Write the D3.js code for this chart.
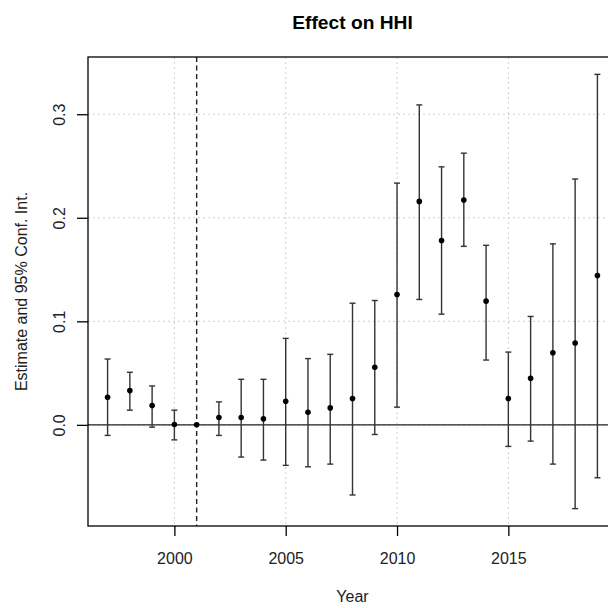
<!DOCTYPE html>
<html>
<head>
<meta charset="utf-8">
<script src="https://cdn.jsdelivr.net/npm/d3@7"></script>
<style>
  html, body { margin: 0; padding: 0; background: #fff; }
  svg { display: block; font-family: "Liberation Sans", Arial, Helvetica, sans-serif; }
</style>
</head>
<body>
<svg id="chart" width="608" height="608"></svg>
<script>
// Event-study coefficients on HHI, by year (2001 is the reference year)
const years = [1997, 1998, 1999, 2000, 2001, 2002, 2003, 2004, 2005, 2006, 2007, 2008,
               2009, 2010, 2011, 2012, 2013, 2014, 2015, 2016, 2017, 2018, 2019];
const estimate = [0.0267, 0.0331, 0.0187, 0.0004, 0.0, 0.0071, 0.0071, 0.0058, 0.0228, 0.0122,
                  0.0164, 0.0254, 0.0556, 0.1259, 0.2158, 0.1780, 0.2171, 0.1195, 0.0254,
                  0.0450, 0.0697, 0.0790, 0.1442];
const lower = [-0.0102, 0.0142, -0.0022, -0.0145, 0.0, -0.0102, -0.0311, -0.0340, -0.0391, -0.0405,
               -0.0379, -0.0677, -0.0093, 0.0171, 0.1211, 0.1069, 0.1724, 0.0626, -0.0208,
               -0.0157, -0.0379, -0.0809, -0.0511];
const upper = [0.0636, 0.0508, 0.0376, 0.0142, 0.0, 0.0222, 0.0440, 0.0440, 0.0835, 0.0640,
               0.0681, 0.1175, 0.1201, 0.2335, 0.3090, 0.2492, 0.2624, 0.1734, 0.0703,
               0.1047, 0.1748, 0.2374, 0.3385];
const xTicks = [2000, 2005, 2010, 2015];
const yTicks = [0.0, 0.1, 0.2, 0.3];
const treatYear = 2001;

const svg = d3.select("#chart");
const plot = { left: 88, top: 57, right: 617, bottom: 526 };

// Axis ranges padded by 4% on each side, like R's default "r" style
const pad = (lo, hi) => { const d = (hi - lo) * 0.04; return [lo - d, hi + d]; };
const x = d3.scaleLinear()
  .domain(pad(d3.min(years), d3.max(years)))
  .range([plot.left, plot.right]);
const y = d3.scaleLinear()
  .domain(pad(d3.min(lower), d3.max(upper)))
  .range([plot.bottom, plot.top]);

// Dotted grid
const grid = svg.append("g")
  .attr("stroke", "#cfcfcf").attr("stroke-width", 1).attr("stroke-dasharray", "2,3");
grid.selectAll("line.v").data(xTicks).join("line")
  .attr("x1", d => x(d)).attr("x2", d => x(d))
  .attr("y1", plot.top).attr("y2", plot.bottom);
grid.selectAll("line.h").data(yTicks).join("line")
  .attr("x1", plot.left).attr("x2", plot.right)
  .attr("y1", d => y(d)).attr("y2", d => y(d));

// Zero line and treatment-year marker
svg.append("line")
  .attr("x1", plot.left).attr("x2", plot.right)
  .attr("y1", y(0)).attr("y2", y(0))
  .attr("stroke", "#222").attr("stroke-width", 1.3);
svg.append("line")
  .attr("x1", x(treatYear)).attr("x2", x(treatYear))
  .attr("y1", plot.top).attr("y2", plot.bottom)
  .attr("stroke", "#222").attr("stroke-width", 1.4).attr("stroke-dasharray", "5,3.5");

// Confidence intervals
const rows = years.map((yr, i) => ({ yr, est: estimate[i], lo: lower[i], hi: upper[i] }));
const bars = svg.append("g").attr("stroke", "#333").attr("stroke-width", 1.4);
const withCI = rows.filter(d => d.hi !== d.lo);
bars.selectAll("line.ci").data(withCI).join("line")
  .attr("x1", d => x(d.yr)).attr("x2", d => x(d.yr))
  .attr("y1", d => y(d.lo)).attr("y2", d => y(d.hi));
bars.selectAll("line.capHi").data(withCI).join("line")
  .attr("x1", d => x(d.yr) - 3).attr("x2", d => x(d.yr) + 3)
  .attr("y1", d => y(d.hi)).attr("y2", d => y(d.hi));
bars.selectAll("line.capLo").data(withCI).join("line")
  .attr("x1", d => x(d.yr) - 3).attr("x2", d => x(d.yr) + 3)
  .attr("y1", d => y(d.lo)).attr("y2", d => y(d.lo));

// Point estimates
svg.append("g").selectAll("circle").data(rows).join("circle")
  .attr("cx", d => x(d.yr)).attr("cy", d => y(d.est)).attr("r", 2.8)
  .attr("fill", "#000");

// Plot frame
svg.append("rect")
  .attr("x", plot.left).attr("y", plot.top)
  .attr("width", plot.right - plot.left).attr("height", plot.bottom - plot.top)
  .attr("fill", "none").attr("stroke", "#000").attr("stroke-width", 1.3);

// Axes
const xAxis = svg.append("g")
  .attr("transform", `translate(0,${plot.bottom})`)
  .call(d3.axisBottom(x).tickValues(xTicks).tickFormat(d3.format("d")).tickSize(10).tickPadding(14));
const yAxis = svg.append("g")
  .attr("transform", `translate(${plot.left},0)`)
  .call(d3.axisLeft(y).tickValues(yTicks).tickFormat(d3.format(".1f")).tickSize(11));
[xAxis, yAxis].forEach(a => {
  a.select(".domain").remove();
  a.selectAll(".tick line").attr("stroke", "#000").attr("stroke-width", 1.3);
  a.selectAll(".tick text").attr("fill", "#222").attr("font-size", 16)
    .attr("font-family", "'Liberation Sans', Arial, sans-serif");
});
xAxis.selectAll(".tick text").attr("dy", null).attr("y", 38);
// y tick labels are rotated to run parallel to the axis
yAxis.selectAll(".tick text")
  .attr("x", null).attr("dy", null)
  .attr("text-anchor", "middle")
  .attr("transform", "translate(-23,0) rotate(-90)");

// Titles
svg.append("text")
  .attr("x", (plot.left + plot.right) / 2).attr("y", 29)
  .attr("text-anchor", "middle").attr("font-weight", "bold").attr("font-size", 19.2)
  .attr("fill", "#000").text("Effect on HHI");
svg.append("text")
  .attr("x", (plot.left + plot.right) / 2).attr("y", 602)
  .attr("text-anchor", "middle").attr("font-size", 16).attr("fill", "#222")
  .text("Year");
svg.append("text")
  .attr("transform", `translate(27,${(plot.top + plot.bottom) / 2}) rotate(-90)`)
  .attr("text-anchor", "middle").attr("font-size", 16).attr("fill", "#222")
  .text("Estimate and 95% Conf. Int.");
</script>
</body>
</html>
